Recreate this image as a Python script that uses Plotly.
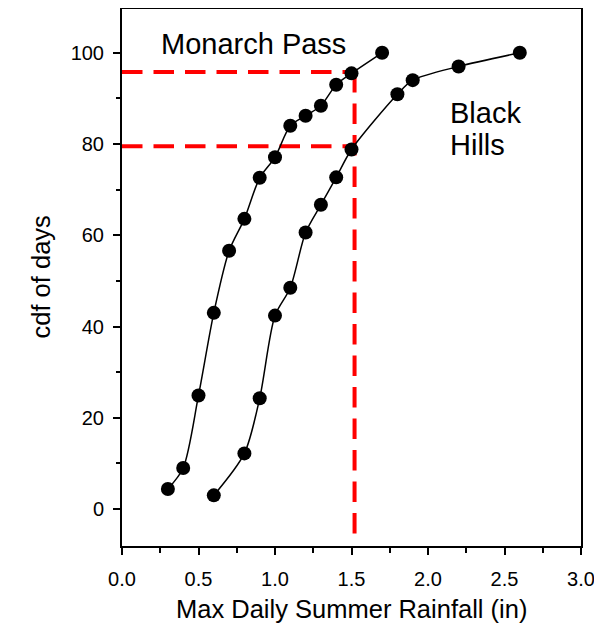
import plotly.graph_objects as go

# Monarch Pass data
mp_x = [0.30, 0.40, 0.50, 0.60, 0.70, 0.80, 0.90, 1.00, 1.10, 1.20, 1.30, 1.40, 1.50, 1.70]
mp_y = [4.4, 9.0, 24.9, 43.0, 56.6, 63.6, 72.6, 77.1, 84.0, 86.2, 88.4, 93.0, 95.5, 100.0]

# Black Hills data
bh_x = [0.60, 0.80, 0.90, 1.00, 1.10, 1.20, 1.30, 1.40, 1.50, 1.80, 1.90, 2.20, 2.60]
bh_y = [3.0, 12.2, 24.3, 42.4, 48.5, 60.6, 66.7, 72.7, 78.8, 90.9, 94.0, 97.0, 100.0]

# Reference (red dashed) lines
ref_x = 1.52
ref_y_high = 95.8
ref_y_low = 79.5
ref_y_bottom = -5.9

x_ticks = [0.0, 0.5, 1.0, 1.5, 2.0, 2.5, 3.0]
x_tick_labels = ["0.0", "0.5", "1.0", "1.5", "2.0", "2.5", "3.0"]
y_ticks = [0, 20, 40, 60, 80, 100]
y_tick_labels = ["0", "20", "40", "60", "80", "100"]

FONT = "Liberation Sans, Arial, sans-serif"
RED = "#ff0000"
DASH = "20.5px,11px"

fig = go.Figure()

# red dashed reference lines
fig.add_trace(go.Scatter(x=[0, ref_x], y=[ref_y_high, ref_y_high], mode="lines",
                         line=dict(color=RED, width=4, dash=DASH), hoverinfo="skip"))
fig.add_trace(go.Scatter(x=[0, ref_x], y=[ref_y_low, ref_y_low], mode="lines",
                         line=dict(color=RED, width=4, dash=DASH), hoverinfo="skip"))
fig.add_trace(go.Scatter(x=[ref_x, ref_x], y=[ref_y_high, ref_y_bottom], mode="lines",
                         line=dict(color=RED, width=4, dash=DASH), hoverinfo="skip"))

for xs, ys in [(mp_x, mp_y), (bh_x, bh_y)]:
    fig.add_trace(go.Scatter(
        x=xs, y=ys, mode="lines+markers",
        line=dict(color="black", width=1.5, shape="spline", smoothing=0.8),
        marker=dict(color="black", size=14, symbol="circle"),
    ))

fig.add_annotation(x=0.86, y=102.0, text="Monarch Pass", showarrow=False,
                   font=dict(family=FONT, size=29, color="black"),
                   xanchor="center", yanchor="middle")
fig.add_annotation(x=2.13, y=86.9, text="Black", showarrow=False,
                   font=dict(family=FONT, size=29, color="black"),
                   xanchor="left", yanchor="middle")
fig.add_annotation(x=2.13, y=79.8, text="Hills", showarrow=False,
                   font=dict(family=FONT, size=29, color="black"),
                   xanchor="left", yanchor="middle")

# axis titles
fig.add_annotation(xref="paper", yref="paper", x=0.5, y=0, yshift=-63,
                   text="Max Daily Summer Rainfall (in)", showarrow=False,
                   font=dict(family=FONT, size=25.5, color="black"),
                   xanchor="center", yanchor="middle")
fig.add_annotation(xref="paper", yref="paper", x=0, y=0.5, xshift=-82,
                   text="cdf of days", showarrow=False, textangle=-90,
                   font=dict(family=FONT, size=25.5, color="black"),
                   xanchor="center", yanchor="middle")

# The page body has an 8px margin, so the figure is drawn 8px smaller with margins shifted.
fig.update_layout(
    width=594, height=629,
    margin=dict(l=114, r=21, t=1, b=91, autoexpand=False),
    plot_bgcolor="white", paper_bgcolor="white",
    showlegend=False,
    font=dict(family=FONT, color="black"),
)

fig.update_xaxes(
    range=[0, 3.0], tickvals=x_ticks, ticktext=x_tick_labels,
    showgrid=False, zeroline=False, automargin=False,
    showline=True, linecolor="black", linewidth=2, mirror=True,
    ticks="outside", ticklen=7, tickwidth=1.5, tickcolor="black",
    ticklabelstandoff=7, ticklabeloverflow="allow",
    minor=dict(dtick=0.25, ticks="outside", ticklen=4.5, tickwidth=1.5, tickcolor="black", showgrid=False),
    tickfont=dict(family=FONT, size=20, color="black"),
)
fig.update_yaxes(
    range=[-8.1, 109.6], tickvals=y_ticks, ticktext=y_tick_labels,
    showgrid=False, zeroline=False, automargin=False,
    showline=True, linecolor="black", linewidth=2, mirror=True,
    ticks="outside", ticklen=7, tickwidth=1.5, tickcolor="black",
    ticklabelstandoff=5,
    minor=dict(dtick=10, tick0=0, ticks="outside", ticklen=4.5, tickwidth=1.5, tickcolor="black", showgrid=False),
    tickfont=dict(family=FONT, size=20, color="black"),
)

fig.write_html("out.html")
